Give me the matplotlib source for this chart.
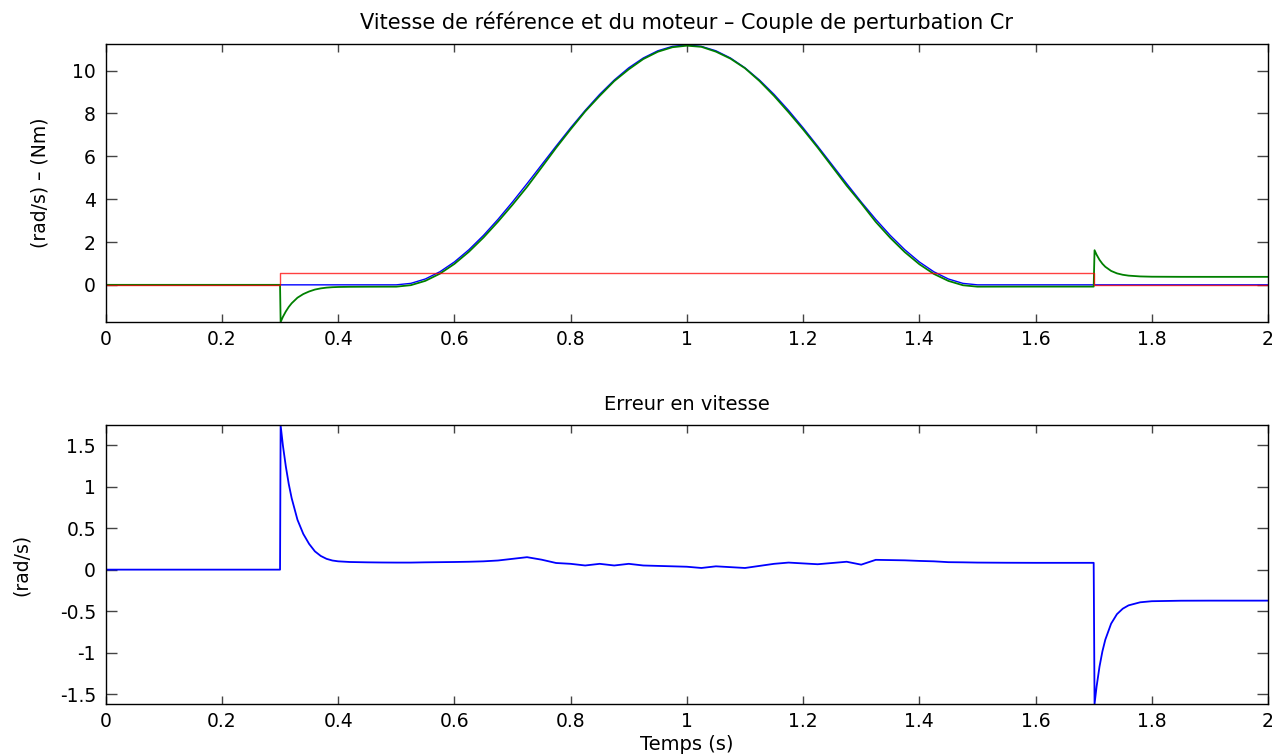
import numpy as np
import matplotlib
matplotlib.use("Agg")
import matplotlib.pyplot as plt
from matplotlib.ticker import FuncFormatter

plt.rcParams["font.family"] = ["DejaVu Sans"]
plt.rcParams["axes.unicode_minus"] = False

# === DATA ===
# common time base (s)
T = [0.0, 0.1, 0.2, 0.3, 0.301, 0.305, 0.31, 0.315, 0.32, 0.33, 0.34, 0.35,
     0.36, 0.37, 0.38, 0.39, 0.40, 0.42, 0.45, 0.475,
     0.5, 0.525, 0.55, 0.575, 0.6, 0.625, 0.65, 0.675, 0.7, 0.725,
     0.75, 0.775, 0.8, 0.825, 0.85, 0.875, 0.9, 0.925, 0.95, 0.975,
     1.0, 1.025, 1.05, 1.075, 1.1, 1.125, 1.15, 1.175, 1.2, 1.225,
     1.25, 1.275, 1.3, 1.325, 1.35, 1.375, 1.4, 1.425, 1.45, 1.475,
     1.5, 1.55, 1.6, 1.65, 1.7, 1.7015, 1.705, 1.71, 1.715, 1.72, 1.73,
     1.74, 1.75, 1.76, 1.78, 1.8, 1.85, 1.9, 2.0]

# reference speed (rad/s)
REF = [0, 0, 0, 0, 0, 0, 0, 0, 0, 0, 0, 0,
       0, 0, 0, 0, 0, 0, 0, 0,
       0.0, 0.069, 0.274, 0.610, 1.069, 1.640, 2.308, 3.058, 3.869, 4.724,
       5.600, 6.476, 7.331, 8.142, 8.892, 9.560, 10.131, 10.590, 10.926, 11.131,
       11.200, 11.131, 10.926, 10.590, 10.131, 9.560, 8.892, 8.142, 7.331, 6.476,
       5.600, 4.724, 3.869, 3.058, 2.308, 1.640, 1.069, 0.610, 0.274, 0.069,
       0.0, 0, 0, 0, 0, 0, 0, 0, 0, 0, 0,
       0, 0, 0, 0, 0, 0, 0, 0]

# speed error (rad/s)
ERR = [0, 0, 0, 0, 1.737, 1.49, 1.24, 1.03, 0.86, 0.60, 0.43, 0.31,
       0.22, 0.165, 0.13, 0.11, 0.10, 0.092, 0.088, 0.086,
       0.085, 0.085, 0.088, 0.09, 0.092, 0.095, 0.10, 0.11, 0.13, 0.15,
       0.12, 0.08, 0.07, 0.05, 0.07, 0.05, 0.07, 0.05, 0.045, 0.04,
       0.035, 0.02, 0.04, 0.03, 0.02, 0.045, 0.07, 0.085, 0.075, 0.065,
       0.08, 0.095, 0.06, 0.118, 0.115, 0.112, 0.105, 0.10, 0.09, 0.088,
       0.085, 0.083, 0.082, 0.082, 0.082, -1.617, -1.408, -1.168, -0.984, -0.843, -0.65,
       -0.536, -0.47, -0.43, -0.393, -0.38, -0.374, -0.373, -0.373]

# disturbance torque Cr (Nm)
T_CR = [0.0, 0.3, 0.3, 1.7, 1.7, 2.0]
CR = [0, 0, 0.57, 0.57, 0, 0]

XTICKS = [0, 0.2, 0.4, 0.6, 0.8, 1, 1.2, 1.4, 1.6, 1.8, 2]

t = np.array(T)
ref = np.array(REF)
err = np.array(ERR)
speed = ref - err  # motor speed = reference - error

fig = plt.figure(figsize=(12.78, 7.56), dpi=100)
ax1 = fig.add_axes([0.0827, 0.574, 0.9095, 0.368])
ax2 = fig.add_axes([0.0827, 0.0688, 0.9095, 0.3686])

ax1.plot(t, ref, color="blue", lw=1.0)
ax1.plot(t, speed, color="green", lw=1.3)
ax1.plot(T_CR, CR, color="red", lw=1.0, alpha=0.75)
ax1.set_ylim(-1.737, 11.25)
ax1.set_yticks([0, 2, 4, 6, 8, 10])
ax1.set_ylabel("(rad/s) \u2013 (Nm)", fontsize=13.5)
ax1.yaxis.set_label_coords(-0.0484, 0.5)
ax1.set_title("Vitesse de r\u00e9f\u00e9rence et du moteur \u2013 Couple de perturbation Cr",
              fontsize=15, pad=11)

ax2.plot(t, err, color="blue", lw=1.3)
ax2.set_ylim(-1.617, 1.737)
ax2.set_yticks([-1.5, -1, -0.5, 0, 0.5, 1, 1.5])
ax2.set_ylabel("(rad/s)", fontsize=13.5)
ax2.yaxis.set_label_coords(-0.0643, 0.5)
ax2.set_xlabel("Temps (s)", fontsize=14, labelpad=3)
ax2.set_title("Erreur en vitesse", fontsize=14, pad=11)

fmt = FuncFormatter(lambda v, p: f"{v:g}")
for ax in (ax1, ax2):
    ax.set_xlim(0, 2)
    ax.set_xticks(XTICKS)
    ax.xaxis.set_major_formatter(fmt)
    ax.yaxis.set_major_formatter(fmt)
    ax.tick_params(direction="in", top=True, right=True, labelsize=13.5,
                   color="#444444", width=1.0)
    ax.tick_params(axis="y", length=8, pad=7)
    ax.tick_params(axis="x", length=6, pad=6)
    for s in ax.spines.values():
        s.set_linewidth(1.0)

fig.savefig("out.png", dpi=100)
